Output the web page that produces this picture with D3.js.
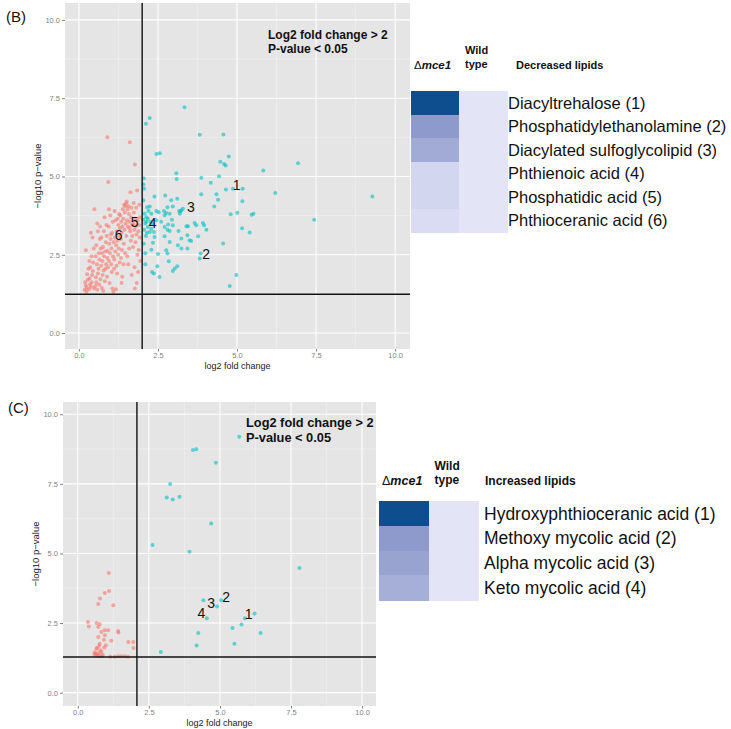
<!DOCTYPE html>
<html><head><meta charset="utf-8">
<script src="https://cdn.jsdelivr.net/npm/d3@7"></script>
<style>body{margin:0;background:#fff}svg{display:block;font-family:"Liberation Sans",Arial,sans-serif}</style>
</head><body><svg id="c" width="731" height="729"></svg>
<script>
// ---------- DATA ----------
const majorTicks = [0, 2.5, 5, 7.5, 10];
const minorTicks = [1.25, 3.75, 6.25, 8.75];

// Panel B: lipids decreased in mutant  ([log2 fold change, -log10 p])
const panelB_below = [
[0.18,1.38],[0.22,1.52],[0.20,1.62],[0.25,1.45],[0.28,1.70],[0.22,2.64],[0.26,1.88],[0.30,2.05],[0.24,1.32],
[0.32,1.40],[0.35,1.55],[0.38,1.48],[0.34,1.75],[0.40,1.62],[0.42,1.85],[0.36,2.10],[0.45,2.25],[0.40,2.45],[0.48,1.42],[0.44,1.98],[0.49,3.95],[0.38,3.20],[0.47,2.70],[0.43,3.05],[0.33,2.30],
[0.52,1.50],[0.55,1.62],[0.58,1.38],[0.54,1.78],[0.60,1.90],[0.62,2.05],[0.57,2.20],[0.65,2.35],[0.68,1.72],[0.63,2.55],[0.55,2.80],[0.66,3.00],[0.60,3.25],[0.70,2.15],[0.69,2.70],[0.53,2.45],[0.58,3.50],[0.64,1.55],[0.67,3.40],
[0.72,1.45],[0.75,1.85],[0.78,2.00],[0.74,2.30],[0.80,2.45],[0.83,2.60],[0.76,2.75],[0.85,2.90],[0.88,3.10],[0.79,3.25],[0.82,1.65],[0.86,2.20],[0.90,2.40],[0.73,2.55],[0.87,3.45],[0.81,3.70],[0.84,2.05],[0.77,1.35],[0.89,1.80],[0.71,3.05],
[0.92,2.10],[0.95,2.30],[0.98,2.55],[0.96,2.85],[1.00,3.00],[1.03,2.70],[1.05,3.20],[0.94,3.40],[1.08,2.45],[1.02,2.20],[1.07,3.55],[0.99,3.75],[1.04,1.95],[0.91,2.62],[1.10,2.90],[0.97,1.60],[1.06,1.42],[1.09,1.32],[0.93,4.82],[0.90,6.25],[1.01,3.15],[0.95,3.95],
[1.12,2.35],[1.15,2.60],[1.18,2.80],[1.14,3.05],[1.20,3.25],[1.22,2.95],[1.25,3.45],[1.16,3.60],[1.28,3.10],[1.24,2.50],[1.19,2.15],[1.27,3.80],[1.13,3.90],[1.21,1.90],[1.26,2.70],[1.17,1.40],[1.29,2.25],[1.23,3.65],[1.11,2.05],[1.30,3.35],
[1.32,3.00],[1.35,3.20],[1.38,3.40],[1.34,3.55],[1.40,3.65],[1.42,2.85],[1.45,3.85],[1.36,2.65],[1.48,3.50],[1.44,3.30],[1.39,3.95],[1.47,4.05],[1.33,2.40],[1.41,2.20],[1.46,2.55],[1.37,1.80],[1.43,4.10],[1.49,4.13],[1.31,3.75],[1.50,3.10],[1.35,1.60],
[1.52,3.60],[1.55,3.40],[1.58,3.80],[1.54,3.95],[1.60,3.55],[1.62,3.25],[1.65,3.70],[1.57,4.05],[1.68,3.45],[1.64,2.95],[1.59,2.70],[1.66,4.00],[1.53,2.45],[1.61,6.09],[1.63,4.50],[1.56,2.20],[1.69,3.10],[1.67,1.85],[1.51,4.20],[1.60,3.35],
[1.72,3.50],[1.75,3.30],[1.78,3.65],[1.74,3.85],[1.80,3.40],[1.82,3.15],[1.77,5.38],[1.84,4.55],[1.86,3.60],[1.88,3.25],[1.79,2.90],[1.85,2.50],[1.76,2.10],[1.90,3.45],[1.92,3.05],[1.83,1.60],[1.77,1.42],[1.89,2.65],[1.93,3.70],[1.71,2.75],[1.81,4.00],[1.87,1.95],[1.94,2.30],[1.73,4.15],[1.91,4.10]
];
const panelB_above = [
[3.34,7.21],[2.24,6.87],[2.12,6.68],[3.82,6.33],[4.57,6.34],[2.45,5.72],[2.56,5.74],[4.74,5.64],[4.47,5.47],[4.59,5.40],[4.64,5.35],[6.93,5.42],[5.83,5.19],[3.08,5.10],[3.09,4.92],[3.87,4.96],[4.43,5.01],[2.05,4.94],[2.04,4.74],[4.17,4.80],[4.65,4.58],[4.87,4.61],[5.18,4.61],[6.21,4.47],[9.28,4.36],[5.17,4.21],[3.87,4.43],[4.35,4.43],[4.40,4.26],[4.28,4.04],[5.46,3.78],[5.52,3.81],[7.44,3.62],[5.16,3.35],[5.40,3.21],[4.80,3.79],[5.01,3.84],[4.56,2.86],[4.98,1.85],[4.77,1.50],[3.85,2.54],[3.82,2.38],
[2.39,4.36],[2.73,4.39],[2.92,4.24],[3.11,4.29],[2.97,4.04],[2.80,4.02],[2.69,3.90],[2.24,4.04],[2.45,3.90],[2.52,3.86],[2.29,3.81],[2.08,3.81],[2.13,3.70],[2.03,3.62],[2.13,3.55],[2.18,3.39],[2.29,3.33],[2.37,3.23],[2.24,3.23],[2.34,3.49],[2.45,3.60],[2.60,3.55],[2.71,3.76],[2.87,3.81],[2.76,3.83],[2.94,3.62],[2.82,3.47],[2.97,3.44],[2.71,3.39],[2.80,3.30],[2.87,3.26],[3.15,3.26],[3.40,3.41],[3.45,3.41],[3.66,3.51],[3.71,3.44],[3.92,3.51],[3.96,3.44],[4.03,3.30],[3.77,3.09],[3.50,2.96],[3.55,2.94],[3.43,3.12],[3.24,3.02],[3.13,2.80],[2.87,2.91],[2.71,3.09],[2.39,3.07],[2.34,2.88],[2.29,2.66],[2.76,2.64],[2.80,2.54],[2.84,2.29],[2.50,2.52],[2.48,2.13],[2.10,2.20],[2.31,1.95],[2.37,1.90],[2.55,1.79],[2.97,1.98],[3.03,2.06],[3.11,2.13],[3.24,2.70],[3.43,2.70],[3.24,3.92],[3.29,3.97],[3.19,3.81],[3.17,3.90],[3.21,3.88],
[2.06,4.61],[2.04,4.24],[2.16,4.02],[2.10,3.50],[2.18,3.65],[2.06,3.30],[2.12,3.10],[2.05,2.85],[2.10,2.55],[2.20,3.90],[2.26,3.55],[2.15,3.20]
];
const panelB_labels = [["1",4.99,4.74],["2",4.02,2.52],["3",3.54,4.01],["4",2.33,3.51],["5",1.76,3.54],["6",1.26,3.12]];
const panelB_thresholds = [2.0, 1.24];

// Panel C: lipids increased in mutant
const panelC_below = [
[1.09,4.30],[1.10,3.65],[0.95,3.58],[0.78,3.38],[1.25,3.14],[0.72,3.18],[0.36,2.54],[0.39,2.38],[0.66,2.50],[0.77,2.46],[0.72,2.36],[0.95,2.24],[1.07,2.24],[0.95,2.06],[1.42,2.21],[1.43,2.16],[0.83,2.18],[1.78,1.82],[1.95,1.82],[1.96,1.60],[1.18,1.86],[0.72,2.00],[0.99,1.70],[0.77,1.76],[0.93,1.62],[0.68,1.60],[0.66,1.58],[0.60,1.45],[0.63,1.40],[0.58,1.38],[0.70,1.36],[0.66,1.33],[0.83,1.46],[0.77,1.31],[0.85,1.31],[0.74,1.42],[0.88,1.35],[1.14,1.29],[1.30,1.29],[1.42,1.31],[1.53,1.31],[1.65,1.31],[1.77,1.29],[0.80,1.52],[0.75,1.68],[0.92,1.90]
];
const panelC_above = [
[5.68,9.19],[4.05,8.72],[4.17,8.74],[4.86,8.26],[3.25,7.49],[3.13,7.01],[3.34,6.94],[3.58,7.04],[4.69,6.08],[2.63,5.30],[3.93,5.06],[7.80,4.48],[4.42,3.32],[5.04,3.32],[4.90,3.09],[4.54,2.67],[5.88,2.67],[6.22,2.84],[5.76,2.45],[5.44,2.32],[6.43,2.14],[4.24,2.14],[4.18,1.69],[5.51,1.76],[2.92,1.46]
];
const panelC_labels = [["1",6.01,2.82],["2",5.22,3.44],["3",4.69,3.20],["4",4.35,2.84]];
const panelC_thresholds = [2.08, 1.28];

// Heatmaps
const decreasedLipids = ["Diacyltrehalose (1)","Phosphatidylethanolamine (2)","Diacylated sulfoglycolipid (3)","Phthienoic acid (4)","Phosphatidic acid (5)","Phthioceranic acid (6)"];
const decreasedMutant = [1.0, 0.35, 0.27, 0.07, 0.07, 0.04];
const decreasedWild   = [0, 0, 0, 0, 0, 0];
const increasedLipids = ["Hydroxyphthioceranic acid (1)","Methoxy mycolic acid (2)","Alpha mycolic acid (3)","Keto mycolic acid (4)"];
const increasedMutant = [1.0, 0.35, 0.31, 0.25];
const increasedWild   = [0, 0, 0, 0];

// ---------- DRAW ----------
const svg = d3.select("#c");
const ptColor = {below:"#F8766D", above:"#00BFC4"};
const heat = d3.scaleLinear().domain([0,0.35,1]).range(["#e3e5f7","#8e9acb","#0e4d8e"]);

function panel(cfg){
  const x = d3.scaleLinear().domain(cfg.xd).range([cfg.l, cfg.r]);
  const y = d3.scaleLinear().domain(cfg.yd).range([cfg.b, cfg.t]);
  const g = svg.append("g");
  g.append("rect").attr("x",cfg.l).attr("y",cfg.t).attr("width",cfg.r-cfg.l).attr("height",cfg.b-cfg.t).attr("fill","#e5e5e5");
  minorTicks.forEach(v=>{
    g.append("line").attr("x1",x(v)).attr("x2",x(v)).attr("y1",cfg.t).attr("y2",cfg.b).attr("stroke","#f2f2f2").attr("stroke-width",0.6);
    g.append("line").attr("y1",y(v)).attr("y2",y(v)).attr("x1",cfg.l).attr("x2",cfg.r).attr("stroke","#f2f2f2").attr("stroke-width",0.6);
  });
  majorTicks.forEach(v=>{
    g.append("line").attr("x1",x(v)).attr("x2",x(v)).attr("y1",cfg.t).attr("y2",cfg.b).attr("stroke","#fff").attr("stroke-width",1.1);
    g.append("line").attr("y1",y(v)).attr("y2",y(v)).attr("x1",cfg.l).attr("x2",cfg.r).attr("stroke","#fff").attr("stroke-width",1.1);
  });
  [["below",cfg.below],["above",cfg.above]].forEach(([k,arr])=>{
    g.selectAll(null).data(arr).enter().append("circle")
      .attr("cx",d=>x(d[0])).attr("cy",d=>y(d[1])).attr("r",2)
      .attr("fill",ptColor[k]).attr("fill-opacity",0.6);
  });
  // threshold lines
  g.append("line").attr("x1",x(cfg.th[0])).attr("x2",x(cfg.th[0])).attr("y1",cfg.t).attr("y2",cfg.b).attr("stroke","#111").attr("stroke-width",1.4);
  g.append("line").attr("x1",cfg.l).attr("x2",cfg.r).attr("y1",y(cfg.th[1])).attr("y2",y(cfg.th[1])).attr("stroke","#111").attr("stroke-width",1.4);
  // axes
  const ax = g.append("g").attr("transform",`translate(0,${cfg.b})`).call(d3.axisBottom(x).tickValues(majorTicks).tickFormat(d3.format(".1f")).tickSize(2.5).tickPadding(1));
  const ay = g.append("g").attr("transform",`translate(${cfg.l},0)`).call(d3.axisLeft(y).tickValues(majorTicks).tickFormat(d3.format(".1f")).tickSize(3).tickPadding(2));
  [ax,ay].forEach(a=>{
    a.select(".domain").remove();
    a.selectAll(".tick line").attr("stroke","#7f7f7f");
    a.selectAll(".tick text").attr("fill","#7f7f7f").style("font-size","7.5px").style("font-family","'Liberation Sans',Arial,sans-serif");
  });
  g.append("text").attr("x",(cfg.l+cfg.r)/2).attr("y",cfg.b+20).attr("text-anchor","middle").style("font-size","9px").attr("fill","#222").text("log2 fold change");
  g.append("text").attr("transform",`translate(${cfg.l-24},${(cfg.t+cfg.b)/2}) rotate(-90)`).attr("text-anchor","middle").style("font-size","9.5px").attr("fill","#222").text("\u2212log10 p\u2212value");
  // point labels
  g.selectAll(null).data(cfg.labels).enter().append("text")
    .attr("x",d=>x(d[1])).attr("y",d=>y(d[2])).attr("text-anchor","middle").attr("dy","0.35em")
    .style("font-size","14px").attr("fill","#111").text(d=>d[0]);
  // annotation
  const an = g.append("text").attr("x",cfg.ann[0]).attr("y",cfg.ann[1]).style("font-size",cfg.ann[2]+"px").style("font-weight","bold").attr("fill","#111");
  an.append("tspan").attr("x",cfg.ann[0]).text("Log2 fold change > 2");
  an.append("tspan").attr("x",cfg.ann[0]).attr("dy",cfg.ann[2]*1.2).text("P-value < 0.05");
  // panel letter
  svg.append("text").attr("x",cfg.letter[0]).attr("y",cfg.letter[1]).style("font-size","15px").attr("fill","#111").text(cfg.letter[2]);
}

panel({l:65,r:410,t:3,b:349,xd:[-0.44,10.47],yd:[-0.51,10.54],below:panelB_below,above:panelB_above,th:panelB_thresholds,labels:panelB_labels,ann:[268,38.5,12],letter:[6,22,"(B)"]});
panel({l:63,r:376,t:402,b:706,xd:[-0.52,10.49],yd:[-0.48,10.44],below:panelC_below,above:panelC_above,th:panelC_thresholds,labels:panelC_labels,ann:[246,427,12.8],letter:[8,413,"(C)"]});

function heatmap(cfg){
  const g = svg.append("g");
  const col = d3.scaleBand().domain(["mutant","wild"]).range([cfg.x0, cfg.x1]);
  const row = d3.scaleBand().domain(cfg.names).range([cfg.y0, cfg.y1]);
  cfg.names.forEach((n,i)=>{
    [["mutant",cfg.mut[i]],["wild",cfg.wt[i]]].forEach(([c,v])=>{
      g.append("rect").attr("x",col(c)).attr("y",row(n)).attr("width",col.bandwidth()+0.5).attr("height",row.bandwidth()+0.5)
        .attr("fill",heat(v)).attr("shape-rendering","crispEdges");
    });
    g.append("text").attr("x",cfg.lx).attr("y",row(n)+row.bandwidth()/2).attr("dy","0.35em")
      .style("font-size",cfg.fs+"px").attr("fill","#111").text(n);
  });
  const hy = cfg.hy, hs = cfg.hs;
  const d = g.append("text").attr("x",cfg.x0+3).attr("y",hy).style("font-size",(hs+0.5)+"px").attr("fill","#111");
  d.append("tspan").text("\u0394");
  d.append("tspan").style("font-weight","bold").style("font-style","italic").text("mce1");
  g.append("text").attr("x",col("wild")+6).attr("y",hy-15).style("font-size",hs+"px").style("font-weight","bold").attr("fill","#111").text("Wild");
  g.append("text").attr("x",col("wild")+6).attr("y",hy-1).style("font-size",hs+"px").style("font-weight","bold").attr("fill","#111").text("type");
  g.append("text").attr("x",cfg.tx).attr("y",hy).style("font-size",hs+"px").style("font-weight","bold").attr("fill","#111").text(cfg.title);
}
heatmap({names:decreasedLipids,mut:decreasedMutant,wt:decreasedWild,x0:411,x1:507,y0:91,y1:232,lx:508,hy:69,tx:516,title:"Decreased lipids",fs:16.5,hs:11});
heatmap({names:increasedLipids,mut:increasedMutant,wt:increasedWild,x0:379,x1:478,y0:501,y1:600,lx:484,hy:485,tx:485,title:"Increased lipids",fs:17.5,hs:12});
</script></body></html>
